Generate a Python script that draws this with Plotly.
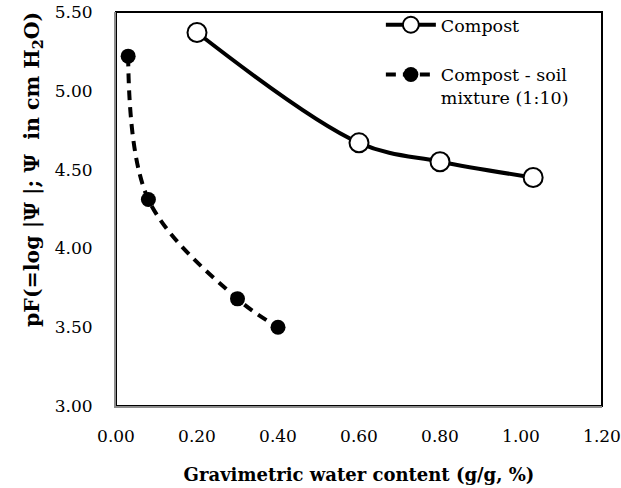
import plotly.graph_objects as go

# Water retention data: gravimetric water content (g/g) vs pF
compost_w = [0.20, 0.60, 0.80, 1.03]
compost_pf = [5.37, 4.67, 4.55, 4.45]

mix_w = [0.03, 0.08, 0.30, 0.40]
mix_pf = [5.22, 4.31, 3.68, 3.50]

x_ticks = [0.00, 0.20, 0.40, 0.60, 0.80, 1.00, 1.20]
y_ticks = [3.00, 3.50, 4.00, 4.50, 5.00, 5.50]

serif = "DejaVu Serif"

fig = go.Figure()

fig.add_trace(go.Scatter(
    x=compost_w, y=compost_pf, name="Compost", legendgroup="a",
    mode="lines+markers",
    line=dict(color="black", width=4, shape="spline", smoothing=1.0),
    marker=dict(symbol="circle", size=19, color="white",
                line=dict(color="black", width=2)),
))

fig.add_trace(go.Scatter(
    x=mix_w, y=mix_pf, name="Compost - soil<br>mixture (1:10)", legendgroup="b",
    mode="lines+markers",
    line=dict(color="black", width=4, shape="spline", smoothing=1.0,
              dash="10px,7px"),
    marker=dict(symbol="circle", size=15, color="black"),
))

# black frame on top/right of the plot area
fig.add_shape(type="rect", xref="paper", yref="paper", x0=0, y0=0, x1=1, y1=1,
              line=dict(color="black", width=2), layer="below")

# y-axis title, placed toward the upper part of the axis
fig.add_annotation(
    text="<b>pF(=log |Ψ |; Ψ  in cm H<sub>2</sub>O)</b>",
    xref="paper", yref="paper", x=-0.172, y=0.60,
    xanchor="center", yanchor="middle", textangle=-90, showarrow=False,
    font=dict(family=serif, size=20.5, color="black"),
)

fig.update_layout(
    width=621, height=488,
    margin=dict(l=116, r=19, t=12, b=82, autoexpand=False),
    paper_bgcolor="white", plot_bgcolor="white",
    font=dict(family=serif, color="black", size=16),
    showlegend=True,
    legend=dict(x=0.545, y=1.013, xanchor="left", yanchor="top",
                bgcolor="rgba(0,0,0,0)", font=dict(family=serif, size=17.5),
                tracegroupgap=24, itemwidth=50, valign="top"),
)

fig.update_xaxes(
    range=[0, 1.2], tickvals=x_ticks,
    ticktext=[f"{v:.2f}" for v in x_ticks],
    showgrid=False, zeroline=False, showline=True,
    linecolor="#8c8c8c", linewidth=2, ticks="", ticklabelstandoff=14,
    tickfont=dict(family=serif, size=17),
    title=dict(text="<b>Gravimetric water content (g/g, %)</b>",
               font=dict(family=serif, size=18), standoff=23),
)
fig.update_yaxes(
    range=[3.0, 5.5], tickvals=y_ticks,
    ticktext=[f"{v:.2f}" for v in y_ticks],
    showgrid=False, zeroline=False, showline=True,
    linecolor="#8c8c8c", linewidth=2, ticks="", ticklabelstandoff=18,
    tickfont=dict(family=serif, size=17),
)

fig.write_html("out.html")
